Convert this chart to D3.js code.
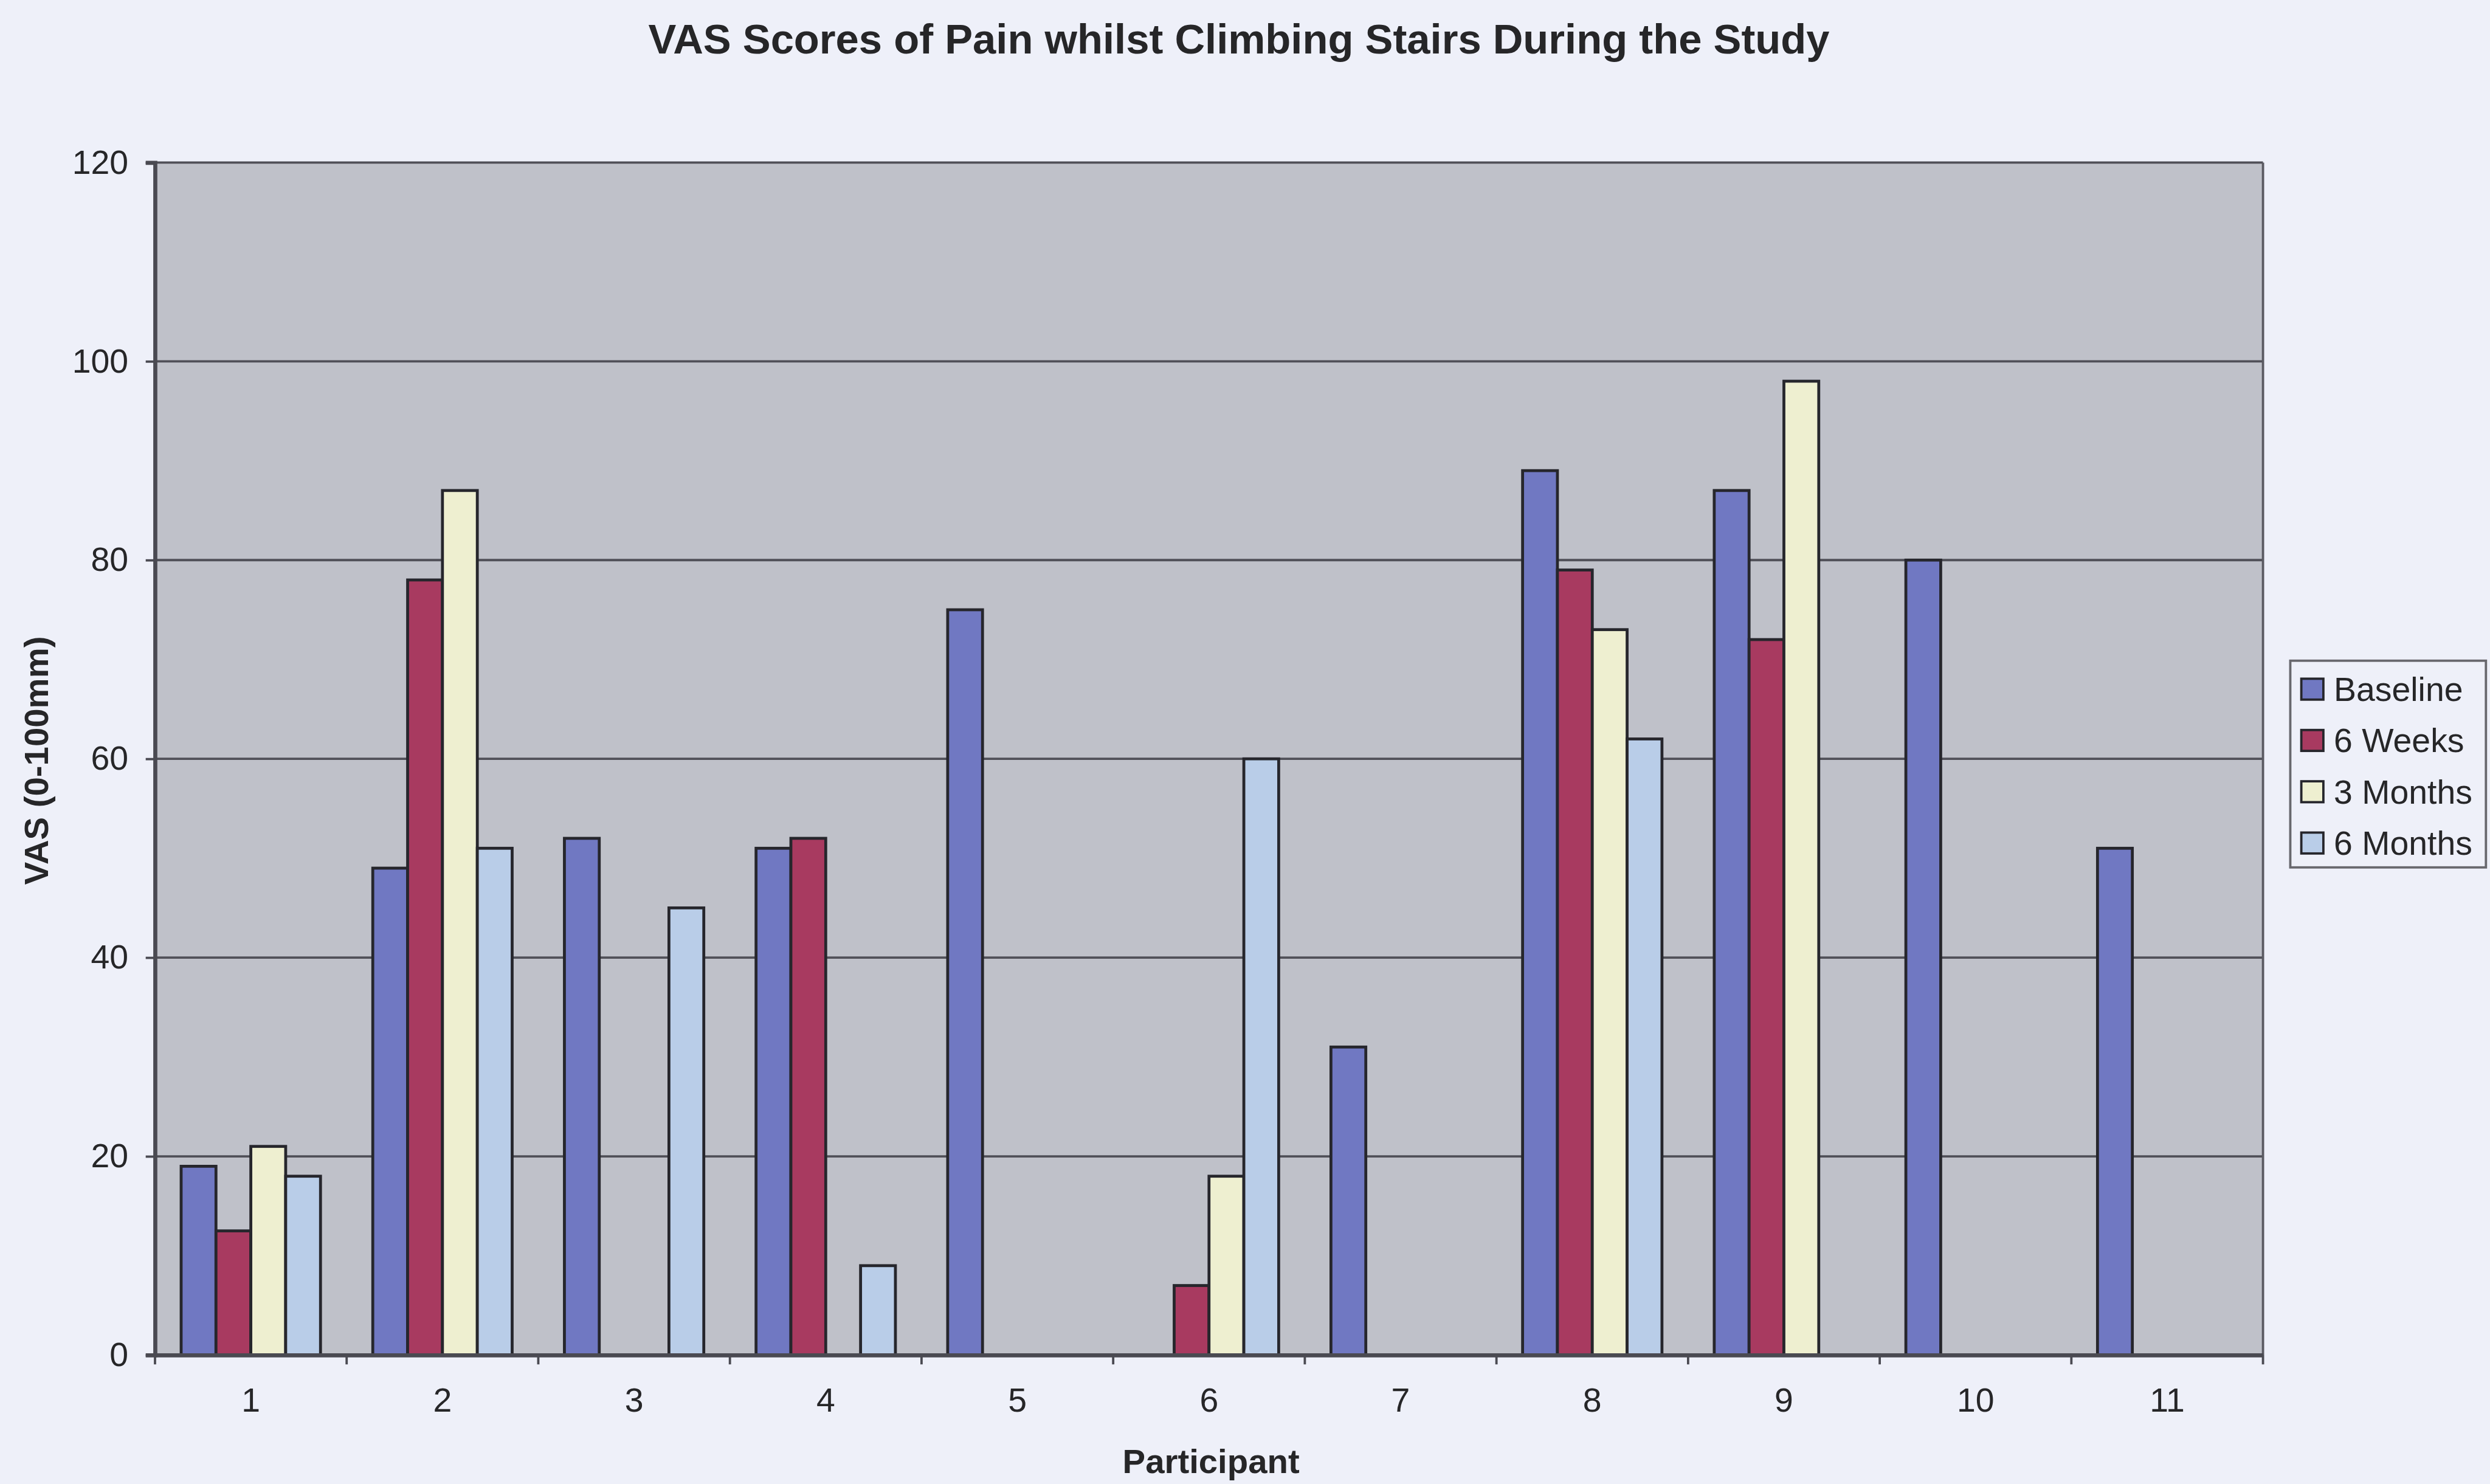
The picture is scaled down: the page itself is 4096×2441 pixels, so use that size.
<!DOCTYPE html>
<html>
<head>
<meta charset="utf-8">
<script src="https://cdn.jsdelivr.net/npm/d3@7"></script>
<style>
  html, body { margin: 0; padding: 0; background: #eef0f9; }
  svg { display: block; }
  text { font-family: "Liberation Sans", Arial, sans-serif; fill: #262628; }
</style>
</head>
<body>
<svg id="chart" width="4096" height="2441"></svg>
<script>
// ---- data ----
const categories = ["1", "2", "3", "4", "5", "6", "7", "8", "9", "10", "11"];
const seriesNames = ["Baseline", "6 Weeks", "3 Months", "6 Months"];
const baseline = [19, 49, 52, 51, 75, null, 31, 89, 87, 80, 51];
const weeks6   = [12.5, 78, null, 52, null, 7, null, 79, 72, null, null];
const months3  = [21, 87, null, null, null, 18, null, 73, 98, null, null];
const months6  = [18, 51, 45, 9, null, 60, null, 62, null, null, null];
const yTicks = [0, 20, 40, 60, 80, 100, 120];

const titleText = "VAS Scores of Pain whilst Climbing Stairs During the Study";
const xTitle = "Participant";
const yTitle = "VAS (0-100mm)";

// ---- styling ----
const seriesColors = ["#7078c2", "#a83a60", "#eeefd0", "#b9cde8"];
const pageBg = "#eef0f9";
const plotBg = "#bfc1c9";

// layout in drawing units, scaled to the window below
const S = 0.955;
const plot = { left: 267, right: 3898, top: 280, bottom: 2334 };

const values = [baseline, weeks6, months3, months6];
const rows = categories.map((c, i) => ({
  cat: c,
  vals: seriesNames.map((s, k) => ({ series: s, k, v: values[k][i] }))
}));

const svg = d3.select("#chart");
svg.append("rect").attr("width", 4096).attr("height", 2441).attr("fill", pageBg);
const root = svg.append("g").attr("transform", `scale(${S})`);

const x0 = d3.scaleBand().domain(categories).range([plot.left, plot.right]).padding(0);
const x1 = d3.scaleBand().domain(seriesNames).range([0, x0.bandwidth()])
  .paddingInner(0).paddingOuter(0.75);
const y = d3.scaleLinear().domain([0, 120]).range([plot.bottom, plot.top]);
const color = d3.scaleOrdinal().domain(seriesNames).range(seriesColors);

// plot area
root.append("rect")
  .attr("x", plot.left).attr("y", plot.top)
  .attr("width", plot.right - plot.left).attr("height", plot.bottom - plot.top)
  .attr("fill", plotBg);

// horizontal gridlines
root.append("g").selectAll("line")
  .data(yTicks.filter(t => t > 0))
  .join("line")
  .attr("x1", plot.left).attr("x2", plot.right)
  .attr("y1", d => y(d)).attr("y2", d => y(d))
  .attr("stroke", "#505058").attr("stroke-width", 4);

// right border
root.append("line")
  .attr("x1", plot.right).attr("x2", plot.right)
  .attr("y1", plot.top).attr("y2", plot.bottom)
  .attr("stroke", "#5a5a62").attr("stroke-width", 4);

// bars
const groups = root.append("g").selectAll("g")
  .data(rows).join("g")
  .attr("transform", d => `translate(${x0(d.cat)},0)`);

groups.selectAll("rect")
  .data(d => d.vals.filter(v => v.v != null))
  .join("rect")
  .attr("x", d => x1(d.series))
  .attr("y", d => y(d.v))
  .attr("width", x1.bandwidth())
  .attr("height", d => y(0) - y(d.v))
  .attr("fill", d => color(d.series))
  .attr("stroke", "#26262c")
  .attr("stroke-width", 5);

// y axis
const yAxis = root.append("g")
  .attr("transform", `translate(${plot.left},0)`)
  .call(d3.axisLeft(y).tickValues(yTicks).tickSize(16).tickPadding(30));
yAxis.select(".domain").attr("stroke", "#4a4a52").attr("stroke-width", 7);
yAxis.selectAll(".tick line").attr("stroke", "#4a4a52").attr("stroke-width", 4);
yAxis.selectAll(".tick text")
  .attr("font-size", 58).attr("fill", "#2a2a2c")
  .style("font-family", "'Liberation Sans', Arial, sans-serif");

// x axis: labels centred under each participant, ticks on the boundaries
const xAxis = root.append("g")
  .attr("transform", `translate(0,${plot.bottom})`)
  .call(d3.axisBottom(x0).tickSize(0).tickPadding(56));
xAxis.select(".domain").attr("stroke", "#4a4a52").attr("stroke-width", 7);
xAxis.selectAll(".tick text")
  .attr("font-size", 58).attr("fill", "#2a2a2c")
  .style("font-family", "'Liberation Sans', Arial, sans-serif");

const boundaries = categories.map(c => x0(c)).concat([plot.right]);
xAxis.append("g").selectAll("line")
  .data(boundaries).join("line")
  .attr("x1", d => d).attr("x2", d => d)
  .attr("y1", 0).attr("y2", 16)
  .attr("stroke", "#4a4a52").attr("stroke-width", 4);

// titles
root.append("text")
  .attr("x", 2134).attr("y", 92)
  .attr("text-anchor", "middle")
  .attr("font-size", 72).attr("font-weight", "bold")
  .text(titleText);

root.append("text")
  .attr("x", 2086).attr("y", 2537)
  .attr("text-anchor", "middle")
  .attr("font-size", 59).attr("font-weight", "bold")
  .text(xTitle);

root.append("text")
  .attr("transform", "translate(83,1310) rotate(-90)")
  .attr("text-anchor", "middle")
  .attr("font-size", 59).attr("font-weight", "bold")
  .text(yTitle);

// legend
const legend = root.append("g");
legend.append("rect")
  .attr("x", 3945).attr("y", 1138)
  .attr("width", 337).attr("height", 356)
  .attr("fill", pageBg).attr("stroke", "#68686e").attr("stroke-width", 4);

const legendY = d3.scalePoint().domain(seriesNames).range([1187, 1452]);
const items = legend.selectAll("g.item")
  .data(seriesNames).join("g").attr("class", "item")
  .attr("transform", d => `translate(0,${legendY(d)})`);
items.append("rect")
  .attr("x", 3964).attr("y", -18)
  .attr("width", 38).attr("height", 36)
  .attr("fill", d => color(d))
  .attr("stroke", "#26262c").attr("stroke-width", 4);
items.append("text")
  .attr("x", 4020).attr("y", 0)
  .attr("dy", "0.35em")
  .attr("font-size", 58)
  .text(d => d);
</script>
</body>
</html>
